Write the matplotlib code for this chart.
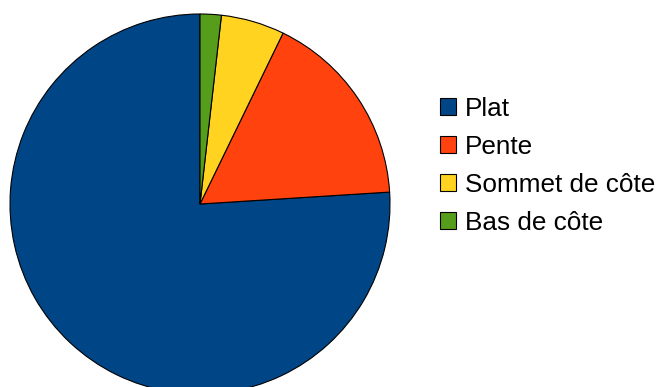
import matplotlib
matplotlib.use('Agg')
import matplotlib.pyplot as plt

plt.rcParams['font.family'] = ['Liberation Sans', 'DejaVu Sans']

labels = ['Plat', 'Pente', 'Sommet de côte', 'Bas de côte']
shares = [76.0, 16.8, 5.4, 1.8]
colors = ['#004586', '#ff420e', '#ffd320', '#579d1c']

W, H = 660, 387
fig = plt.figure(figsize=(W / 100, H / 100), dpi=100)

# pie centred at (200, 204) px, radius 190 px; the bottom runs off the canvas
r = 190
cx, cy = 200, 204
ax = fig.add_axes([(cx - r) / W, (H - cy - r) / H, 2 * r / W, 2 * r / H])
wedges, _ = ax.pie(shares, colors=colors, startangle=90, counterclock=True,
                   radius=1.0,
                   wedgeprops=dict(edgecolor='black', linewidth=0.8))
ax.set_xlim(-1, 1)
ax.set_ylim(-1, 1)
ax.set_aspect('equal')
ax.axis('off')
for w in wedges:
    w.set_clip_on(False)

leg = fig.legend(wedges, labels, loc='upper left',
                 bbox_to_anchor=(440 / W, 1 - 97 / H),
                 frameon=False, fontsize=18.8,
                 handlelength=0.62, handleheight=0.62,
                 handletextpad=0.33, labelspacing=0.53,
                 borderpad=0, borderaxespad=0)
for h in leg.legend_handles:
    h.set_linewidth(0.8)
    h.set_edgecolor('black')

fig.savefig('out.png', dpi=100)
